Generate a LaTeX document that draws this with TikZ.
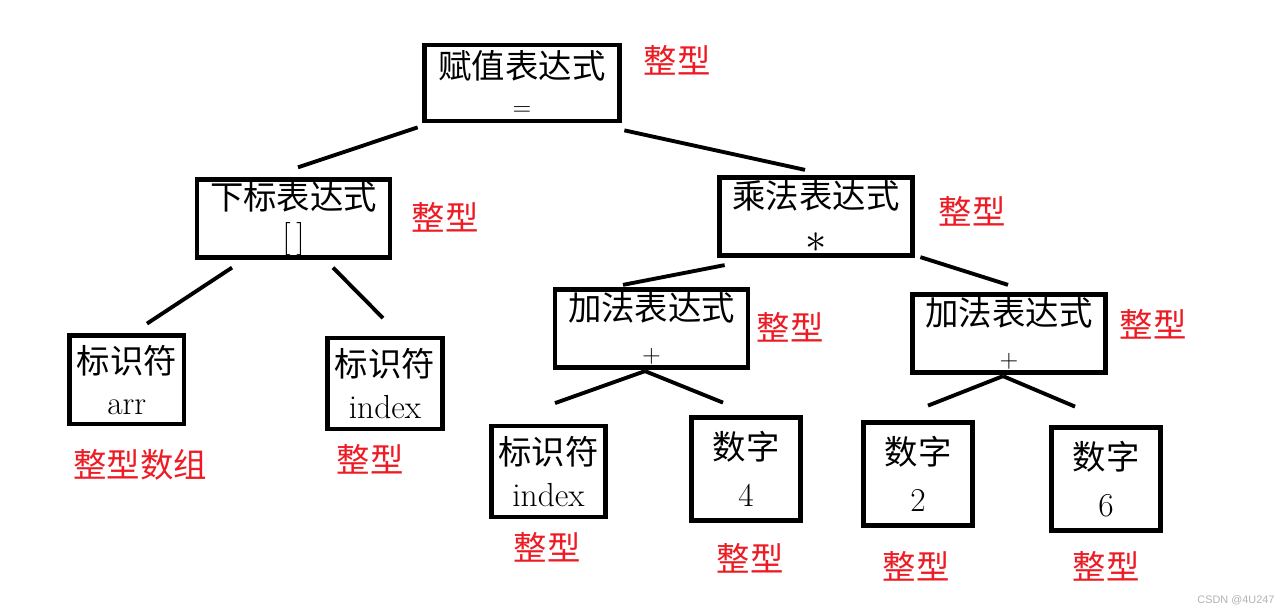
\documentclass[tikz,border=0pt]{standalone}
\usepackage{fontspec}
\newfontfamily\cjk{Noto Sans CJK SC}
\newfontfamily\wmfont{Liberation Sans}
\usetikzlibrary{calc}
\definecolor{typered}{RGB}{237,28,36}
\newcommand\opsym[1]{{\fontsize{14}{14}\selectfont #1}}

\begin{document}
\begin{tikzpicture}[
    box/.style={draw, line width=2.7pt, inner sep=0pt, align=center, font=\fontsize{19}{21.5}\selectfont},
    wide/.style={box, minimum width=3.86cm, minimum height=1.55cm},
    ident/.style={box, minimum width=2.29cm, minimum height=1.82cm},
    numbox/.style={box, minimum width=2.18cm, minimum height=2.06cm},
    edge/.style={line width=2.2pt},
    typ/.style={text=typered, font=\fontsize{19}{24}\selectfont\cjk}
  ]
  \useasboundingbox (0,0) rectangle (25.76,12.28);
  % tree nodes
  \node[wide, minimum width=3.89cm, minimum height=1.52cm] (assign) at (10.44,10.62) {{\cjk 赋值表达式}\\\opsym{=}};
  \node[wide] (index) at (5.87,7.91) {{\cjk 下标表达式}\\{[\,]}};
  \node[wide] (mul) at (16.32,7.95) {{\cjk 乘法表达式}\\[4pt]\scalebox{1.4}{$\ast$}};
  \node[wide] (addl) at (13.03,5.71) {{\cjk 加法表达式}\\[2pt]\opsym{+}};
  \node[wide] (addr) at (20.18,5.61) {{\cjk 加法表达式}\\[2pt]\opsym{+}};
  \node[ident, minimum height=1.77cm] (arr) at (2.535,4.685) {{\cjk 标识符}\\[2pt]arr};
  \node[ident] (idx) at (7.70,4.61) {{\cjk 标识符}\\[2pt]index};
  \node[ident] (idxb) at (10.97,2.85) {{\cjk 标识符}\\[2pt]index};
  \node[numbox] (four) at (14.92,2.90) {{\cjk 数字}\\[5pt]4};
  \node[numbox] (two) at (18.36,2.80) {{\cjk 数字}\\[5pt]2};
  \node[numbox] (six) at (22.12,2.70) {{\cjk 数字}\\[5pt]6};

  % connectors
  \draw[edge] ($(assign.south west)+(-0.095,-0.08)$) -- ($(index.north)+(0.09,0.20)$);
  \draw[edge] ($(assign.south east)+(0.055,-0.14)$) -- ($(mul.north)+(-0.22,0.11)$);
  \draw[edge] ($(index.south)+(-1.23,-0.16)$) -- ($(arr.north)+(0.405,0.19)$);
  \draw[edge] ($(index.south)+(0.79,-0.16)$) -- ($(idx.north)+(-0.04,0.35)$);
  \draw[edge] ($(mul.south west)+(0.15,-0.15)$) -- ($(addl.north)+(-0.57,0.05)$);
  \draw[edge] ($(mul.south east)+(0.11,0.01)$) -- ($(addr.north)+(-0.02,0.15)$);
  \draw[edge] ($(addl.south)+(-0.13,-0.03)$) -- ($(idxb.north)+(0.13,0.41)$);
  \draw[edge] ($(addl.south)+(-0.13,-0.03)$) -- ($(four.north)+(-0.46,0.25)$);
  \draw[edge] ($(addr.south)+(-0.12,-0.03)$) -- ($(two.north)+(0.20,0.29)$);
  \draw[edge] ($(addr.south)+(-0.12,-0.03)$) -- ($(six.north)+(-0.62,0.37)$);

  % type labels
  \node[typ] (t1) at (13.54,11.08) {整型};
  \node[typ] (t2) at (8.90,7.94) {整型};
  \node[typ] (t3) at (19.44,8.06) {整型};
  \node[typ] (t4) at (15.80,5.74) {整型};
  \node[typ] (t5) at (23.06,5.80) {整型};
  \node[typ] (t6) at (2.80,2.98) {整型数组};
  \node[typ] (t7) at (7.40,3.10) {整型};
  \node[typ] (t8) at (10.94,1.34) {整型};
  \node[typ] (t9) at (15.00,1.12) {整型};
  \node[typ] (t10) at (18.32,0.96) {整型};
  \node[typ] (t11) at (22.12,0.96) {整型};

  \node[text=black!30, font=\wmfont\fontsize{6.2}{7}\selectfont] (mark) at (24.72,0.28) {CSDN @4U247};
\end{tikzpicture}
\end{document}
